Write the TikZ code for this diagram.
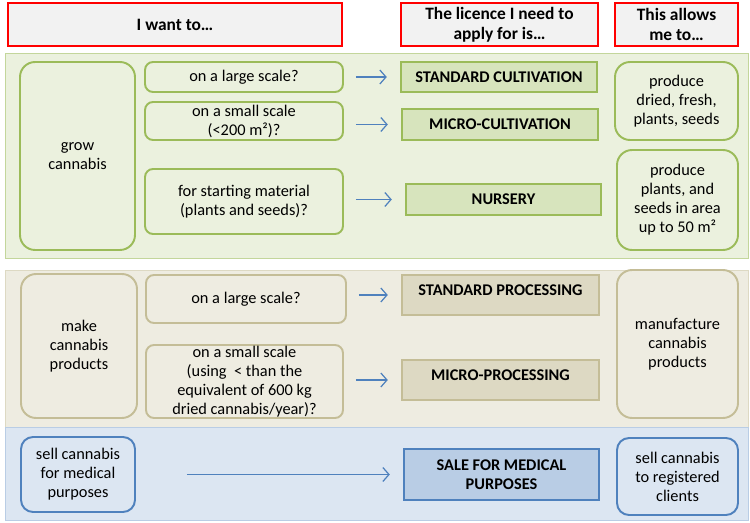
\documentclass[tikz,border=0pt]{standalone}
\usepackage{fontspec}
\setmainfont{Carlito}
\usetikzlibrary{arrows.meta}
\definecolor{hdfill}{HTML}{F2F2F2}
\definecolor{hdline}{HTML}{FF0000}
\definecolor{gband}{HTML}{EBF1DE}
\definecolor{gbandline}{HTML}{C3D69B}
\definecolor{gline}{HTML}{9BBB59}
\definecolor{gfill}{HTML}{D7E4BD}
\definecolor{tband}{HTML}{EEECE1}
\definecolor{tbandline}{HTML}{DDD9C3}
\definecolor{tline}{HTML}{C4BD97}
\definecolor{tfill}{HTML}{DDD9C3}
\definecolor{bband}{HTML}{DCE6F2}
\definecolor{bbandline}{HTML}{B9CDE5}
\definecolor{bline}{HTML}{4F81BD}
\definecolor{bfill}{HTML}{B9CDE5}
\definecolor{arrcol}{HTML}{4F81BD}

\begin{document}
\begin{tikzpicture}
  [x=0.02cm,y=-0.02cm,
   every node/.style={font=\fontsize{9.3}{10.8}\selectfont,align=center,inner sep=1pt},
   head/.style={draw=hdline,fill=hdfill,line width=1.4pt,minimum height=0.86cm,
     font=\fontsize{9.9}{11.3}\selectfont\bfseries},
   ask/.style={draw=#1,line width=1.1pt,rounded corners=0.16cm},
   big/.style={draw=#1,line width=1.1pt,rounded corners=0.3cm},
   lic/.style 2 args={draw=#1,fill=#2,line width=1.4pt,
     font=\fontsize{9.3}{10.8}\selectfont\bfseries},
   link/.style={draw=arrcol,-{Straight Barb[length=3.5pt,width=8pt]},line width=0.7pt,
     shorten <=0.24cm,shorten >=0.26cm}]
  \useasboundingbox (0,0) rectangle (750,523);

  % bands
  \draw[fill=gband,draw=gbandline] (5,53) rectangle (748,258);
  \draw[fill=tband,draw=tbandline] (5,270) rectangle (748,427);
  \draw[fill=bband,draw=bbandline] (5,427) rectangle (748,520);

  % column heads
  \node[head,minimum width=6.68cm] (hwant) at (175,24.5) {I want to…};
  \node[head,minimum width=3.94cm] (hlic) at (499.5,24.5) {The licence I need to\\apply for is…};
  \node[head,minimum width=2.46cm] (hallow) at (676.5,24.5) {This allows\\me to…};

  % grow
  \node[big=gline,minimum width=2.30cm,minimum height=3.76cm] (grow) at (77.5,156) {grow\\cannabis};
  \node[ask=gline,minimum width=3.96cm,minimum height=0.60cm] (gbig) at (244,77) {on a large scale?};
  \node[ask=gline,minimum width=3.96cm,minimum height=0.76cm,inner sep=0pt] (gsmall) at (244,121) {on a small scale\\(<200 m²)?};
  \node[ask=gline,minimum width=3.96cm,minimum height=1.30cm] (gstart) at (244,201.5) {for starting material\\(plants and seeds)?};
  \node[lic={gline}{gfill},minimum width=3.92cm,minimum height=0.60cm] (lstdcult) at (499,77) {STANDARD CULTIVATION};
  \node[lic={gline}{gfill},minimum width=3.92cm,minimum height=0.62cm] (lmicrocult) at (500,124.5) {MICRO-CULTIVATION};
  \node[lic={gline}{gfill},minimum width=3.90cm,minimum height=0.62cm] (lnursery) at (503.5,199.5) {NURSERY};
  \node[big=gline,minimum width=2.46cm,minimum height=1.56cm] (rgrowa) at (676.5,101) {produce\\dried, fresh,\\plants, seeds};
  \node[big=gline,minimum width=2.42cm,minimum height=2.00cm] (rgrowb) at (677.5,200) {produce\\plants, and\\seeds in area\\up to 50 m²};

  % make
  \node[big=tline,minimum width=2.32cm,minimum height=2.88cm] (make) at (79,346) {make\\cannabis\\products};
  \node[ask=tline,minimum width=4.00cm,minimum height=0.96cm] (pbig) at (246,299) {on a large scale?};
  \node[ask=tline,minimum width=3.94cm,minimum height=1.46cm,inner sep=0pt] (psmall) at (244.5,381.5) {on a small scale\\(using \ < than the\\equivalent of 600 kg\\dried cannabis/year)?};
  \node[lic={tline}{tfill},minimum width=3.94cm,minimum height=0.80cm,text depth=5pt] (lstdproc) at (500.5,295) {STANDARD PROCESSING};
  \node[lic={tline}{tfill},minimum width=3.94cm,minimum height=0.80cm,text depth=5pt] (lmicroproc) at (500.5,380) {MICRO-PROCESSING};
  \node[big=tline,minimum width=2.42cm,minimum height=2.96cm] (rmake) at (677.5,344) {manufacture\\cannabis\\products};

  % sell
  \node[big=bline,minimum width=2.28cm,minimum height=1.50cm,rounded corners=0.24cm] (sell) at (78,474.5) {sell cannabis\\for medical\\purposes};
  \node[lic={bline}{bfill},minimum width=3.90cm,minimum height=1.02cm] (lsale) at (501.5,474.5) {SALE FOR MEDICAL\\PURPOSES};
  \node[big=bline,minimum width=2.42cm,minimum height=1.54cm,rounded corners=0.24cm] (rsell) at (677.5,476.5) {sell cannabis\\to registered\\clients};

  \foreach \from/\to in {gbig/lstdcult,gsmall/lmicrocult,gstart/lnursery,pbig/lstdproc,psmall/lmicroproc}
    \draw[link] (\from.east |- \to.west) -- (\to.west);
  \draw[link,shorten <=1.02cm] (sell.east |- lsale.west) -- (lsale.west);

\end{tikzpicture}
\end{document}
